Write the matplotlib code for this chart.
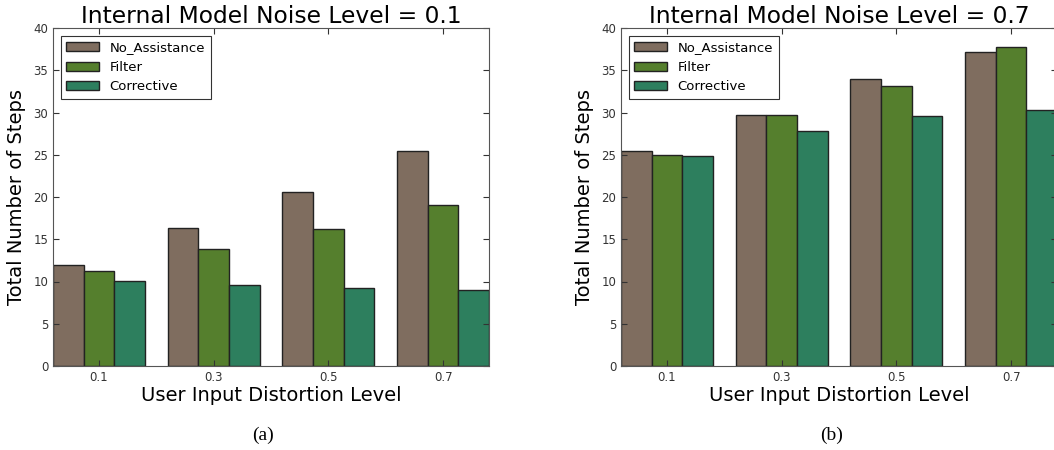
import numpy as np
import matplotlib
matplotlib.use("Agg")
import matplotlib.pyplot as plt

distortion = ["0.1", "0.3", "0.5", "0.7"]
series = ["No_Assistance", "Filter", "Corrective"]
colors = ["#7f6d5f", "#557f2d", "#2d7f5e"]

# noise level 0.1
noa_01 = [11.9, 16.3, 20.6, 25.4]
filt_01 = [11.2, 13.8, 16.2, 19.1]
corr_01 = [10.1, 9.6, 9.2, 9.0]

# noise level 0.7
noa_07 = [25.5, 29.7, 34.0, 37.2]
filt_07 = [25.0, 29.7, 33.1, 37.7]
corr_07 = [24.8, 27.8, 29.6, 30.3]

plt.rcParams["font.family"] = "DejaVu Sans"
plt.rcParams["xtick.direction"] = "in"
plt.rcParams["ytick.direction"] = "in"
plt.rcParams["xtick.top"] = True
plt.rcParams["ytick.right"] = True

fig = plt.figure(figsize=(10.54, 4.5), dpi=100)
w = 0.8 / 3
ind = np.arange(len(distortion))

def panel(rect, data, title, tag, tag_x):
    ax = fig.add_axes(rect)
    for j, (vals, name, c) in enumerate(zip(data, series, colors)):
        ax.bar(ind + (j - 1) * w, vals, w, color=c, edgecolor="#222222",
               linewidth=1, label=name)
    ax.set_xlim(-1.5 * w, 3 + 1.5 * w)
    ax.set_ylim(0, 40)
    ax.set_yticks(range(0, 41, 5))
    ax.set_xticks(ind)
    ax.set_xticklabels(distortion)
    ax.tick_params(labelsize=8.5, length=4, width=0.8, colors="#333333")
    ax.set_title(title, fontsize=16.8, pad=1.5)
    ax.set_xlabel("User Input Distortion Level", fontsize=14, labelpad=1.5)
    ax.set_ylabel("Total Number of Steps", fontsize=14, labelpad=5)
    for s in ax.spines.values():
        s.set_color("#555555")
    leg = ax.legend(loc="upper left", fontsize=9.5, fancybox=False,
                    handlelength=2.5, borderaxespad=0.6, labelspacing=0.5)
    leg.get_frame().set_edgecolor("black")
    leg.get_frame().set_linewidth(0.8)
    fig.text(tag_x / 1054, 0.033, tag,
             ha="center", va="center", fontsize=14, family="Liberation Serif")
    return ax

panel([53 / 1054, 84 / 450, 436 / 1054, 338 / 450],
      [noa_01, filt_01, corr_01], "Internal Model Noise Level = 0.1", "(a)", 263)
panel([621 / 1054, 84 / 450, 436 / 1054, 338 / 450],
      [noa_07, filt_07, corr_07], "Internal Model Noise Level = 0.7", "(b)", 832)

fig.savefig("out.png", dpi=100)
